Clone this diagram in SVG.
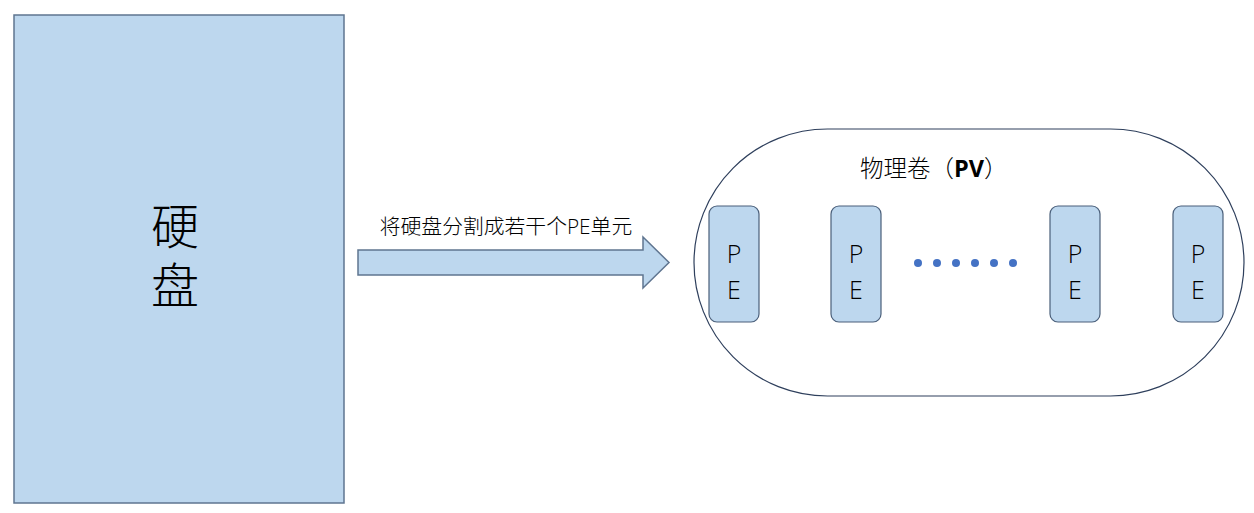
<svg xmlns="http://www.w3.org/2000/svg" width="1254" height="513" viewBox="0 0 1254 513">
<style>
.fill{fill:#bdd7ee;stroke:#5f7590;stroke-width:1.5}
.pe{fill:#bdd7ee;stroke:#4a5f7a;stroke-width:1.2}
.t{font-family:"Open Sans","Noto Sans CJK SC",sans-serif;fill:#000}
.l{font-weight:300}
.dot{fill:#4472c4}
</style>
<rect width="1254" height="513" fill="#fff"/>
<g id="disk">
<rect class="fill" x="14" y="15" width="330" height="488"/>
<text class="t l" x="175" y="244" font-size="48" text-anchor="middle">硬</text>
<text class="t l" x="175" y="303" font-size="48" text-anchor="middle">盘</text>
</g>
<g id="connectors">
<path class="fill" d="M358,250 H643 V237 L669,262.5 L643,288 V275 H358 Z"/>
<text class="t l" x="506" y="234" font-size="20.8" text-anchor="middle">将硬盘分割成若干个PE单元</text>
</g>
<g id="pv">
<rect x="694" y="129" width="550" height="267" rx="133.5" ry="133.5" fill="#fff" stroke="#2e3f5c" stroke-width="1.2"/>
<text class="t l" x="860" y="177" font-size="23.5">物理卷（<tspan font-weight="bold">PV</tspan>）</text>
</g>
<g id="pe1"><rect class="pe" x="709" y="206" width="50" height="116" rx="8"/><text class="t l" x="734" y="263" font-size="25" text-anchor="middle">P</text><text class="t l" x="734" y="299" font-size="25" text-anchor="middle">E</text></g>
<g id="pe2"><rect class="pe" x="831" y="206" width="50" height="116" rx="8"/><text class="t l" x="856" y="263" font-size="25" text-anchor="middle">P</text><text class="t l" x="856" y="299" font-size="25" text-anchor="middle">E</text></g>
<g id="dots">
<circle class="dot" cx="918" cy="263" r="4"/><circle class="dot" cx="937" cy="263" r="4"/><circle class="dot" cx="956" cy="263" r="4"/><circle class="dot" cx="975" cy="263" r="4"/><circle class="dot" cx="994" cy="263" r="4"/><circle class="dot" cx="1013" cy="263" r="4"/>
</g>
<g id="pe3"><rect class="pe" x="1050" y="206" width="50" height="116" rx="8"/><text class="t l" x="1075" y="263" font-size="25" text-anchor="middle">P</text><text class="t l" x="1075" y="299" font-size="25" text-anchor="middle">E</text></g>
<g id="pe4"><rect class="pe" x="1173" y="206" width="50" height="116" rx="8"/><text class="t l" x="1198" y="263" font-size="25" text-anchor="middle">P</text><text class="t l" x="1198" y="299" font-size="25" text-anchor="middle">E</text></g>
</svg>
